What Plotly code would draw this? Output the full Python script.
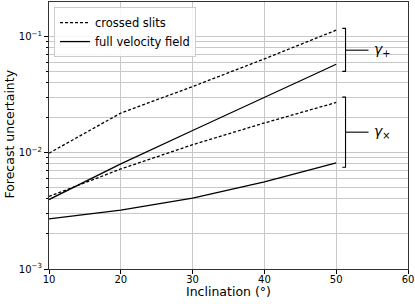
import plotly.graph_objects as go
import math

inclination = [10, 20, 30, 40, 50]
slits_plus = [0.0099, 0.0219, 0.037, 0.064, 0.113]
slits_cross = [0.0042, 0.00724, 0.0117, 0.018, 0.027]
full_plus = [0.00395, 0.0080, 0.0155, 0.030, 0.0575]
full_cross = [0.0027, 0.00321, 0.00406, 0.0056, 0.00817]

y_ticks = [1e-3, 1e-2, 1e-1]
y_ticktext = ["10<sup>−3</sup>", "10<sup>−2</sup>", "10<sup>−1</sup>"]
x_ticks = [10, 20, 30, 40, 50, 60]

# brackets: (top, bottom, middle, label)
brackets = [
    (0.117, 0.050, 0.076, "<i>γ</i><sub>+</sub>"),
    (0.030, 0.0075, 0.015, "<i>γ</i><sub>×</sub>"),
]
bx_left, bx_mid, bx_right, bx_label = 50.85, 51.3, 54.5, 55.0

font = "DejaVu Sans"
lw = 1.3
fig = go.Figure()
fig.add_trace(go.Scatter(x=inclination, y=slits_plus, mode="lines", name="crossed slits",
                         line=dict(color="black", width=lw, dash="3px,2px")))
fig.add_trace(go.Scatter(x=inclination, y=full_plus, mode="lines", name="full velocity field",
                         line=dict(color="black", width=lw)))
fig.add_trace(go.Scatter(x=inclination, y=slits_cross, mode="lines", showlegend=False,
                         line=dict(color="black", width=lw, dash="3px,2px")))
fig.add_trace(go.Scatter(x=inclination, y=full_cross, mode="lines", showlegend=False,
                         line=dict(color="black", width=lw)))

for top, bot, mid, label in brackets:
    fig.add_trace(go.Scatter(x=[bx_left, bx_mid, bx_mid, bx_left], y=[top, top, bot, bot],
                             mode="lines", showlegend=False, hoverinfo="skip",
                             line=dict(color="black", width=1.1)))
    fig.add_trace(go.Scatter(x=[bx_mid, bx_right], y=[mid, mid], mode="lines",
                             showlegend=False, hoverinfo="skip",
                             line=dict(color="black", width=1.1)))
    fig.add_annotation(x=bx_label, y=math.log10(mid), text=label, showarrow=False,
                       xanchor="left", yanchor="middle", font=dict(size=14, color="black", family=font))

fig.add_annotation(x=0.5, y=-0.083, xref="paper", yref="paper", text="Inclination (°)",
                   showarrow=False, xanchor="center", yanchor="middle",
                   font=dict(size=12.5, color="black", family=font))
fig.add_annotation(x=-0.111, y=0.504, xref="paper", yref="paper", text="Forecast uncertainty",
                   showarrow=False, xanchor="center", yanchor="middle", textangle=-90,
                   font=dict(size=12.5, color="black", family=font))

grid = "#c8c8c8"
minor_vals = [m * 10 ** e for e in range(-3, 0) for m in range(2, 10)]
fig.update_xaxes(range=[10, 60], tickvals=x_ticks, showgrid=True, gridcolor=grid, gridwidth=1,
                 ticks="outside", ticklen=4, tickcolor="black", showline=True, linecolor="#333",
                 linewidth=1.2, mirror=True, zeroline=False, automargin=False,
                 ticklabelstandoff=-3,
                 tickfont=dict(size=10, color="black", family=font))
fig.update_yaxes(type="log", range=[-3, -0.705], tickvals=y_ticks, ticktext=y_ticktext,
                 showgrid=True, gridcolor=grid, gridwidth=1,
                 ticks="outside", ticklen=4, tickcolor="black", showline=True, linecolor="#333",
                 linewidth=1.2, mirror=True, zeroline=False, automargin=False,
                 minor=dict(tickvals=minor_vals, showgrid=True, gridcolor=grid, gridwidth=1,
                            ticks="outside", ticklen=2, tickcolor="black"),
                 tickfont=dict(size=10, color="black", family=font))
fig.update_layout(width=415, height=304, margin=dict(l=49, r=7, t=2, b=35, autoexpand=False),
                  plot_bgcolor="white", paper_bgcolor="white",
                  font=dict(family=font, color="black"),
                  legend=dict(x=0.014, y=0.981, xanchor="left", yanchor="top",
                              bgcolor="rgba(255,255,255,0.85)", bordercolor="#cccccc", borderwidth=1,
                              font=dict(size=11.5, color="black", family=font),
                              tracegroupgap=0, itemwidth=30))
fig.write_html("out.html", config={"displayModeBar": False},
               post_script="document.body.style.margin='0';document.body.style.overflow='hidden';")
